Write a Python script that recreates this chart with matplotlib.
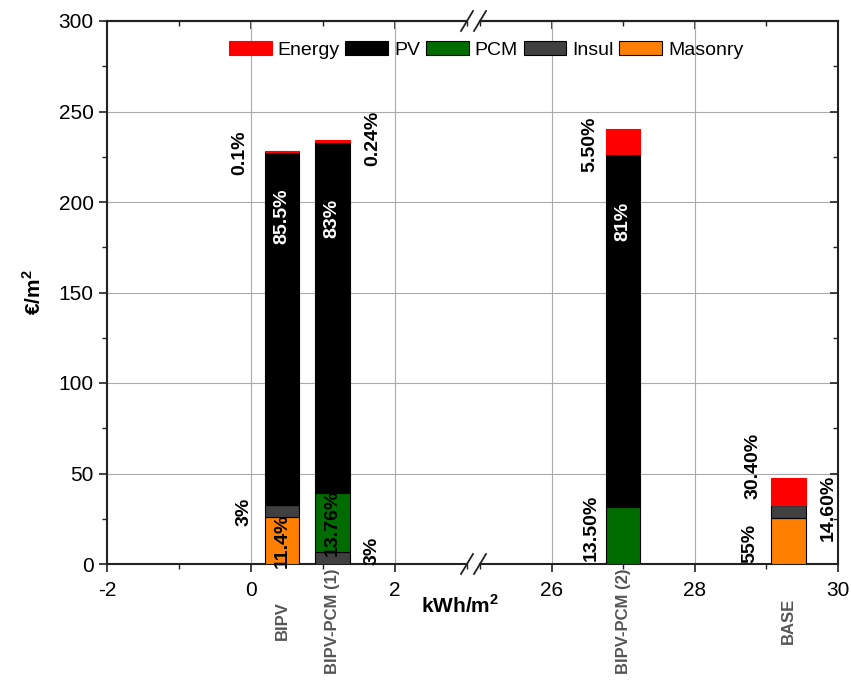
"""Stacked cost bars on a broken kWh/m2 axis."""

import matplotlib.pyplot as plt
import matplotlib.transforms as mtransforms
from matplotlib.lines import Line2D
from matplotlib.patches import Patch

plt.rcParams["font.family"] = ["Liberation Sans", "DejaVu Sans"]
plt.rcParams["mathtext.fontset"] = "custom"
plt.rcParams["mathtext.rm"] = "Liberation Sans"
plt.rcParams["mathtext.bf"] = "Liberation Sans:bold"

categories = ["BIPV", "BIPV-PCM (1)", "BIPV-PCM (2)", "BASE"]
energy_use = [0.43, 1.13, 27.0, 29.31]  # kWh/m2 of each case
masonry = [25.8, 0.0, 0.0, 25.6]
insul = [6.8, 6.8, 0.0, 6.8]
pcm = [0.0, 32.2, 31.7, 0.0]
pv = [195.0, 194.3, 194.6, 0.0]
energy = [0.6, 1.0, 13.9, 15.3]

# share labels: text, x, y, colour
pct_labels = [
    ("0.1%", -0.15, 227, "black"),
    ("85.5%", 0.43, 192, "white"),
    ("3%", -0.1, 29, "black"),
    ("11.4%", 0.43, 13, "black"),
    ("83%", 1.13, 191, "white"),
    ("0.24%", 1.69, 235, "black"),
    ("13.76%", 1.13, 22.5, "black"),
    ("3%", 1.68, 7, "black"),
    ("5.50%", 26.53, 232, "black"),
    ("81%", 27.0, 189, "white"),
    ("13.50%", 26.56, 20, "black"),
    ("30.40%", 28.81, 54, "black"),
    ("55%", 28.77, 11.6, "black"),
    ("14.60%", 29.86, 31, "black"),
]

layers = [
    ("Masonry", masonry, "#FF8000", "black"),
    ("Insul", insul, "#404040", "black"),
    ("PCM", pcm, "#006C00", "black"),
    ("PV", pv, "black", "black"),
    ("Energy", energy, "#FF0000", "#FF0000"),
]

W, H = 851, 684
fig = plt.figure(figsize=(W / 100, H / 100), dpi=100)
y0, y1 = 1 - 564 / H, 1 - 21 / H
ax_l = fig.add_axes([107 / W, y0, (467 - 107) / W, y1 - y0])
ax_r = fig.add_axes([480 / W, y0, (838 - 480) / W, y1 - y0])

line_c = "#222222"
grid_c = "#AAAAAA"
for ax, lim in ((ax_l, (-2, 3)), (ax_r, (25, 30))):
    bottom = [0.0] * len(categories)
    for name, vals, fc, ec in layers:
        ax.bar(energy_use, vals, width=0.48, bottom=bottom, color=fc,
               edgecolor=ec, linewidth=0.8, zorder=3)
        bottom = [b + v for b, v in zip(bottom, vals)]
    ax.set_xlim(*lim)
    ax.set_ylim(0, 300)
    ax.set_xticks(range(lim[0] + lim[0] % 2, lim[1] + 1, 2))
    ax.set_xticks(range(lim[0], lim[1] + 1), minor=True)
    ax.set_yticks(range(0, 301, 50))
    ax.set_yticks(range(0, 301, 25), minor=True)
    ax.grid(which="major", color=grid_c, linewidth=0.8, zorder=0)
    ax.tick_params(axis="x", which="both", direction="out", color=line_c,
                   labelsize=15, pad=6)
    ax.tick_params(axis="x", which="major", length=6, width=1.2)
    ax.tick_params(axis="x", which="minor", length=3.5, width=1.0)
    for s in ax.spines.values():
        s.set_linewidth(1.5)
        s.set_color(line_c)
    top = ax.secondary_xaxis("top")
    top.set_xticks(ax.get_xticks())
    top.set_xticks(ax.get_xticks(minor=True), minor=True)
    top.tick_params(which="both", direction="in", labeltop=False, color=line_c)
    top.tick_params(which="major", length=6, width=1.2)
    top.tick_params(which="minor", length=3.5, width=1.0)
    top.spines["top"].set_linewidth(1.5)
    top.spines["top"].set_color(line_c)

ax_l.spines["right"].set_visible(False)
ax_r.spines["left"].set_visible(False)
ax_l.set_xticklabels(["-2", "0", "2"])
ax_l.tick_params(axis="y", which="both", direction="out", color=line_c,
                 labelsize=15)
ax_l.tick_params(axis="y", which="major", length=6, width=1.2)
ax_l.tick_params(axis="y", which="minor", length=3.5, width=1.0)
ax_r.tick_params(axis="y", which="both", left=False, labelleft=False,
                 right=True, direction="in", color=line_c)
ax_r.tick_params(axis="y", which="major", length=6, width=1.2)
ax_r.tick_params(axis="y", which="minor", length=3.5, width=1.0)
ax_l.set_ylabel(r"€/m$^\mathbf{2}$", fontsize=15, fontweight="bold",
                labelpad=10)

# grid lines run on through the axis break
gap = mtransforms.blended_transform_factory(fig.transFigure, ax_l.transData)
for yv in range(50, 300, 50):
    fig.add_artist(Line2D([467 / W, 480 / W], [yv, yv], transform=gap,
                          color=grid_c, linewidth=0.8, zorder=0))

for text, x, y, c in pct_labels:
    ax = ax_l if x < 10 else ax_r
    ax.text(x, y, text, rotation=90, ha="center", va="center", color=c,
            fontsize=14, fontweight="bold", zorder=5, clip_on=False)

for name, x in zip(categories, energy_use):
    ax = ax_l if x < 10 else ax_r
    ax.text(x, -0.105, name, rotation=90, ha="center", va="center",
            transform=ax.get_xaxis_transform(), color="#555555",
            fontsize=12, fontweight="bold")

fig.text(460 / W, 1 - 605 / H, r"kWh/m$^\mathbf{2}$", ha="center",
         va="center", fontsize=15, fontweight="bold")

# break marks on top and bottom axis lines
for xp in (467, 480):
    for yp in (21, 564):
        fig.add_artist(Line2D([(xp - 6) / W, (xp + 6) / W],
                              [1 - (yp + 10) / H, 1 - (yp - 10) / H],
                              color=line_c, linewidth=1.3))

handles = [Patch(facecolor=fc, edgecolor=ec if name != "Energy" else fc,
                 linewidth=0.8, label=name) for name, _, fc, ec in layers[::-1]]
fig.legend(handles=handles, loc="center", bbox_to_anchor=(486 / W, 1 - 50 / H),
           ncol=5, frameon=False, fontsize=14, handlelength=2.2,
           handleheight=0.75, handletextpad=0.3, columnspacing=0.3)

fig.savefig("out.png", dpi=100, facecolor="white")
